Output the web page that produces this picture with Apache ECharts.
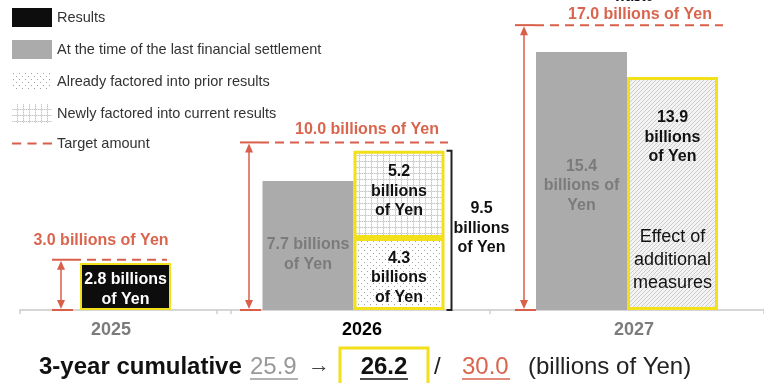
<!DOCTYPE html>
<html>
<head>
<meta charset="utf-8">
<script src="https://cdn.jsdelivr.net/npm/echarts@6/dist/echarts.min.js"></script>
<style>
  html, body { margin: 0; padding: 0; background: #fff; }
  #chart { width: 764px; height: 383px; }
</style>
</head>
<body>
<div id="chart"></div>
<script>
// ---- values (billions of Yen) ----
const years = ['2025', '2026', '2027'];
const results = [2.8];                 // 2025
const lastSettlement = [7.7, 15.4];    // 2026, 2027
const priorFactored = [4.3];           // 2026
const newlyFactored = [5.2];           // 2026
const additionalMeasures = [13.9];     // 2027
const targets = [3.0, 10.0, 17.0];     // 2025, 2026, 2027
const cumulativeBefore = [25.9];
const cumulativeNow = [26.2];
const cumulativeTarget = [30.0];

// ---- styling ----
const FONT = '"Liberation Sans", Arial, sans-serif';
const RED = '#d95f4a';
const RED_TEXT = '#d9654f';
const YELLOW = '#f2e01a';
const GRAY = '#ababab';
const GRAY_TEXT = '#7b7b7b';

function tile(size, draw) {
  const c = document.createElement('canvas');
  c.width = size; c.height = size;
  draw(c.getContext('2d'), size);
  return c;
}
// sparse dots
const dotTile = tile(6, (g, s) => {
  g.fillStyle = '#ffffff'; g.fillRect(0, 0, s, s);
  g.fillStyle = '#a3a3a3';
  g.fillRect(1, 1, 1, 1);
  g.fillRect(4, 4, 1, 1);
});
// fine dotted grid
const gridTile = tile(6, (g, s) => {
  g.fillStyle = '#ffffff'; g.fillRect(0, 0, s, s);
  g.fillStyle = '#c8c8c8';
  for (let i = 0; i < s; i += 2) { g.fillRect(5, i, 1, 1); g.fillRect(i, 5, 1, 1); }
  g.fillStyle = '#e0e0e0';
  for (let i = 1; i < s; i += 2) { g.fillRect(5, i, 1, 1); g.fillRect(i, 5, 1, 1); }
});
// diagonal hatch
const hatchTile = tile(4, (g, s) => {
  g.fillStyle = '#f3f3f3'; g.fillRect(0, 0, s, s);
  g.fillStyle = '#cdcdcd';
  for (let i = 0; i < s; i++) g.fillRect(i, s - 1 - i, 1, 1);
});
const dotFill = { image: dotTile, repeat: 'repeat' };
const gridFill = { image: gridTile, repeat: 'repeat' };
const hatchFill = { image: hatchTile, repeat: 'repeat' };

const yMax = 18.5;
const BAR_W = 91;

const barLabel = (fmt, color, offset, extra) => Object.assign({
  show: true, position: 'inside', offset: offset,
  color: color, fontFamily: FONT, fontSize: 16, fontWeight: 'bold',
  lineHeight: 19.5, align: 'center', formatter: p => fmt(p.value.toFixed(1))
}, extra || {});

// target-amount annotation: red dashed level, double arrow, caps and caption
const targetLayout = [
  { arrow: -64.5, end: 41.5, labelDx: -24.5, labelDy: -19 },
  { arrow: -104.5, end: 94.5, labelDx: 13.5, labelDy: -13 },
  { arrow: -103, end: 96, labelDx: 13, labelDy: -11 }
];
function targetRenderer(layout) {
  return function (params, api) {
    const t = api.value(1);
    const top = api.coord([api.value(0), t]);
    const base = api.coord([api.value(0), 0]);
    const cx = top[0], yT = top[1], y0 = base[1];
    const ax = cx + layout.arrow;
    const s = { stroke: RED, lineWidth: 2 };
    return {
      type: 'group',
      children: [
        { type: 'line', shape: { x1: ax + 11, y1: yT, x2: cx + layout.end, y2: yT },
          style: { stroke: RED, lineWidth: 2, lineDash: [9, 6] } },
        { type: 'line', shape: { x1: ax - 9, y1: yT, x2: ax + 11, y2: yT }, style: s },
        { type: 'line', shape: { x1: ax - 9, y1: y0, x2: ax + 12, y2: y0 }, style: s },
        { type: 'line', shape: { x1: ax, y1: yT + 4, x2: ax, y2: y0 - 4 }, style: { stroke: RED, lineWidth: 1.5 } },
        { type: 'polygon', shape: { points: [[ax, yT + 1], [ax - 4, yT + 10], [ax + 4, yT + 10]] }, style: { fill: RED } },
        { type: 'polygon', shape: { points: [[ax, y0 - 1], [ax - 4, y0 - 10], [ax + 4, y0 - 10]] }, style: { fill: RED } },
        { type: 'text', x: cx + layout.labelDx, y: yT + layout.labelDy,
          style: { text: t.toFixed(1) + ' billions of Yen', fill: RED_TEXT,
                   font: 'bold 16px ' + FONT, align: 'center', verticalAlign: 'middle' } }
      ]
    };
  };
}

// bracket showing the 2026 stacked total
function bracketRenderer(params, api) {
  const total = api.value(1);
  const top = api.coord([api.value(0), total]);
  const base = api.coord([api.value(0), 0]);
  const cx = top[0];
  const x1 = cx + 93, x2 = cx + 98;
  return {
    type: 'group',
    children: [
      { type: 'polyline', shape: { points: [[x1, top[1]], [x2, top[1]], [x2, base[1]], [x1, base[1]]] },
        style: { stroke: '#222', lineWidth: 2, fill: null } },
      { type: 'text', x: cx + 128, y: (top[1] + base[1]) / 2 - 2,
        style: { text: total.toFixed(1) + '\nbillions\nof Yen', fill: '#111',
                 font: 'bold 16px ' + FONT, lineHeight: 19.5, align: 'center', verticalAlign: 'middle' } }
    ]
  };
}

const xAxisBase = (i, color, pad) => ({
  type: 'category', gridIndex: i, data: [years[i]],
  axisLine: { lineStyle: { color: '#d6d6d6', width: 2 } },
  axisTick: { show: true, length: 4, lineStyle: { color: '#cfcfcf', width: 1.5 } },
  axisLabel: { color: color, fontFamily: FONT, fontSize: 18, fontWeight: 'bold', margin: 11, padding: pad }
});
const yAxisBase = i => ({ type: 'value', gridIndex: i, min: 0, max: yMax, show: false });

const option = {
  animation: false,
  backgroundColor: '#ffffff',
  grid: [
    { left: 20, width: 211, top: 0, bottom: 73 },
    { left: 217, width: 273, top: 0, bottom: 73 },
    { left: 490, right: 0, top: 0, bottom: 73 }
  ],
  xAxis: [
    xAxisBase(0, GRAY_TEXT, [0, 29, 0, 0]),
    xAxisBase(1, '#000000', [0, 0, 0, 17]),
    xAxisBase(2, GRAY_TEXT, [0, 0, 0, 14])
  ],
  yAxis: [yAxisBase(0), yAxisBase(1), yAxisBase(2)],
  legend: {
    orient: 'vertical', left: 12, top: 8, padding: 0,
    itemWidth: 40, itemHeight: 19, itemGap: 13,
    icon: 'rect',
    selectedMode: false,
    textStyle: { fontFamily: FONT, fontSize: 14.5, color: '#333' },
    data: [
      { name: 'Results', itemStyle: { borderWidth: 0 } },
      { name: 'At the time of the last financial settlement', itemStyle: { borderWidth: 0 } },
      { name: 'Already factored into prior results', itemStyle: { borderWidth: 0 } },
      { name: 'Newly factored into current results', itemStyle: { borderWidth: 0 } },
      { name: 'Target amount', icon: 'path://M0 0h9v2H0zM15 0h9v2h-9zM30 0h9v2h-9z', itemStyle: { color: RED } }
    ]
  },
  series: [
    // 2025
    {
      name: 'Results', type: 'bar', xAxisIndex: 0, yAxisIndex: 0, barWidth: BAR_W,
      data: results,
      itemStyle: { color: '#0d0d0d', borderColor: YELLOW, borderWidth: 2 },
      label: barLabel(v => v + ' billions\nof Yen', '#ffffff', [0, 3])
    },
    {
      name: 'Target amount', type: 'custom', xAxisIndex: 0, yAxisIndex: 0, clip: false,
      itemStyle: { color: RED }, z: 5,
      data: [[0, targets[0]]], renderItem: targetRenderer(targetLayout[0])
    },
    // 2026
    {
      name: 'At the time of the last financial settlement', type: 'bar', xAxisIndex: 1, yAxisIndex: 1,
      barWidth: BAR_W, barGap: '0%',
      data: [lastSettlement[0]],
      itemStyle: { color: GRAY },
      label: barLabel(v => v + ' billions\nof Yen', GRAY_TEXT, [0, 9])
    },
    {
      name: 'Already factored into prior results', type: 'bar', stack: 'y2026', xAxisIndex: 1, yAxisIndex: 1,
      barWidth: BAR_W, barGap: '0%',
      data: priorFactored,
      itemStyle: { color: dotFill, borderColor: YELLOW, borderWidth: 3 },
      label: barLabel(v => v + '\nbillions\nof Yen', '#111111', [0, 4])
    },
    {
      name: 'Newly factored into current results', type: 'bar', stack: 'y2026', xAxisIndex: 1, yAxisIndex: 1,
      barWidth: BAR_W, barGap: '0%',
      data: newlyFactored,
      itemStyle: { color: gridFill, borderColor: YELLOW, borderWidth: 3 },
      label: barLabel(v => v + '\nbillions\nof Yen', '#111111', [0, -3])
    },
    {
      name: 'Target amount', type: 'custom', xAxisIndex: 1, yAxisIndex: 1, clip: false,
      itemStyle: { color: RED }, z: 5,
      data: [[0, targets[1]]], renderItem: targetRenderer(targetLayout[1])
    },
    {
      name: '2026 total', type: 'custom', xAxisIndex: 1, yAxisIndex: 1, clip: false, z: 5,
      data: [[0, +(priorFactored[0] + newlyFactored[0]).toFixed(1)]], renderItem: bracketRenderer
    },
    // 2027
    {
      name: 'At the time of the last financial settlement', type: 'bar', xAxisIndex: 2, yAxisIndex: 2,
      barWidth: BAR_W, barGap: '0%',
      data: [lastSettlement[1]],
      itemStyle: { color: GRAY },
      label: barLabel(v => v + '\nbillions of\nYen', GRAY_TEXT, [0, 5])
    },
    {
      name: 'Effect of additional measures', type: 'bar', xAxisIndex: 2, yAxisIndex: 2,
      barWidth: BAR_W, barGap: '0%',
      data: additionalMeasures,
      itemStyle: { color: hatchFill, borderColor: YELLOW, borderWidth: 3 },
      label: {
        show: true, position: 'insideTop', distance: 31, align: 'center',
        formatter: p => '{v|' + p.value.toFixed(1) + '}\n{v|billions}\n{v|of Yen}\n{gap| }\n' +
          '{e|Effect of}\n{e|additional}\n{e|measures}',
        rich: {
          v: { fontFamily: FONT, fontSize: 16, fontWeight: 'bold', color: '#111', lineHeight: 19.5 },
          gap: { fontSize: 10, lineHeight: 59 },
          e: { fontFamily: FONT, fontSize: 18, color: '#111', lineHeight: 23 }
        }
      }
    },
    {
      name: 'Target amount', type: 'custom', xAxisIndex: 2, yAxisIndex: 2, clip: false,
      itemStyle: { color: RED }, z: 5,
      data: [[0, targets[2]]], renderItem: targetRenderer(targetLayout[2])
    }
  ],
  graphic: [
    { type: 'text', x: 634, y: -3, style: { text: 'waste', font: 'bold 14px ' + FONT, fill: '#111', align: 'center', verticalAlign: 'middle' } },
    // 3-year cumulative summary line
    { type: 'text', x: 39, y: 367, style: { text: '3-year cumulative', font: 'bold 24px ' + FONT, fill: '#111', verticalAlign: 'middle' } },
    { type: 'text', x: 250, y: 367, style: { text: cumulativeBefore[0].toFixed(1), font: '24px ' + FONT, fill: '#999999', verticalAlign: 'middle' } },
    { type: 'line', shape: { x1: 250, y1: 379, x2: 298, y2: 379 }, style: { stroke: '#999999', lineWidth: 1.5 } },
    { type: 'text', x: 308, y: 366, style: { text: '→', font: '22px ' + FONT, fill: '#444', verticalAlign: 'middle' } },
    { type: 'rect', shape: { x: 340, y: 348, width: 88, height: 45 }, style: { fill: 'none', stroke: YELLOW, lineWidth: 3 } },
    { type: 'text', x: 384, y: 367, style: { text: cumulativeNow[0].toFixed(1), font: 'bold 24px ' + FONT, fill: '#111', align: 'center', verticalAlign: 'middle' } },
    { type: 'line', shape: { x1: 360, y1: 379, x2: 408, y2: 379 }, style: { stroke: '#111', lineWidth: 1.5 } },
    { type: 'text', x: 434, y: 367, style: { text: '/', font: '24px ' + FONT, fill: '#222', verticalAlign: 'middle' } },
    { type: 'text', x: 462, y: 367, style: { text: cumulativeTarget[0].toFixed(1), font: '24px ' + FONT, fill: RED_TEXT, verticalAlign: 'middle' } },
    { type: 'line', shape: { x1: 462, y1: 379, x2: 510, y2: 379 }, style: { stroke: RED_TEXT, lineWidth: 1.5 } },
    { type: 'text', x: 528, y: 367, style: { text: '(billions of Yen)', font: '24px ' + FONT, fill: '#222', verticalAlign: 'middle' } }
  ]
};

const chart = echarts.init(document.getElementById('chart'), null, { renderer: 'canvas' });
chart.setOption(option);
</script>
</body>
</html>
